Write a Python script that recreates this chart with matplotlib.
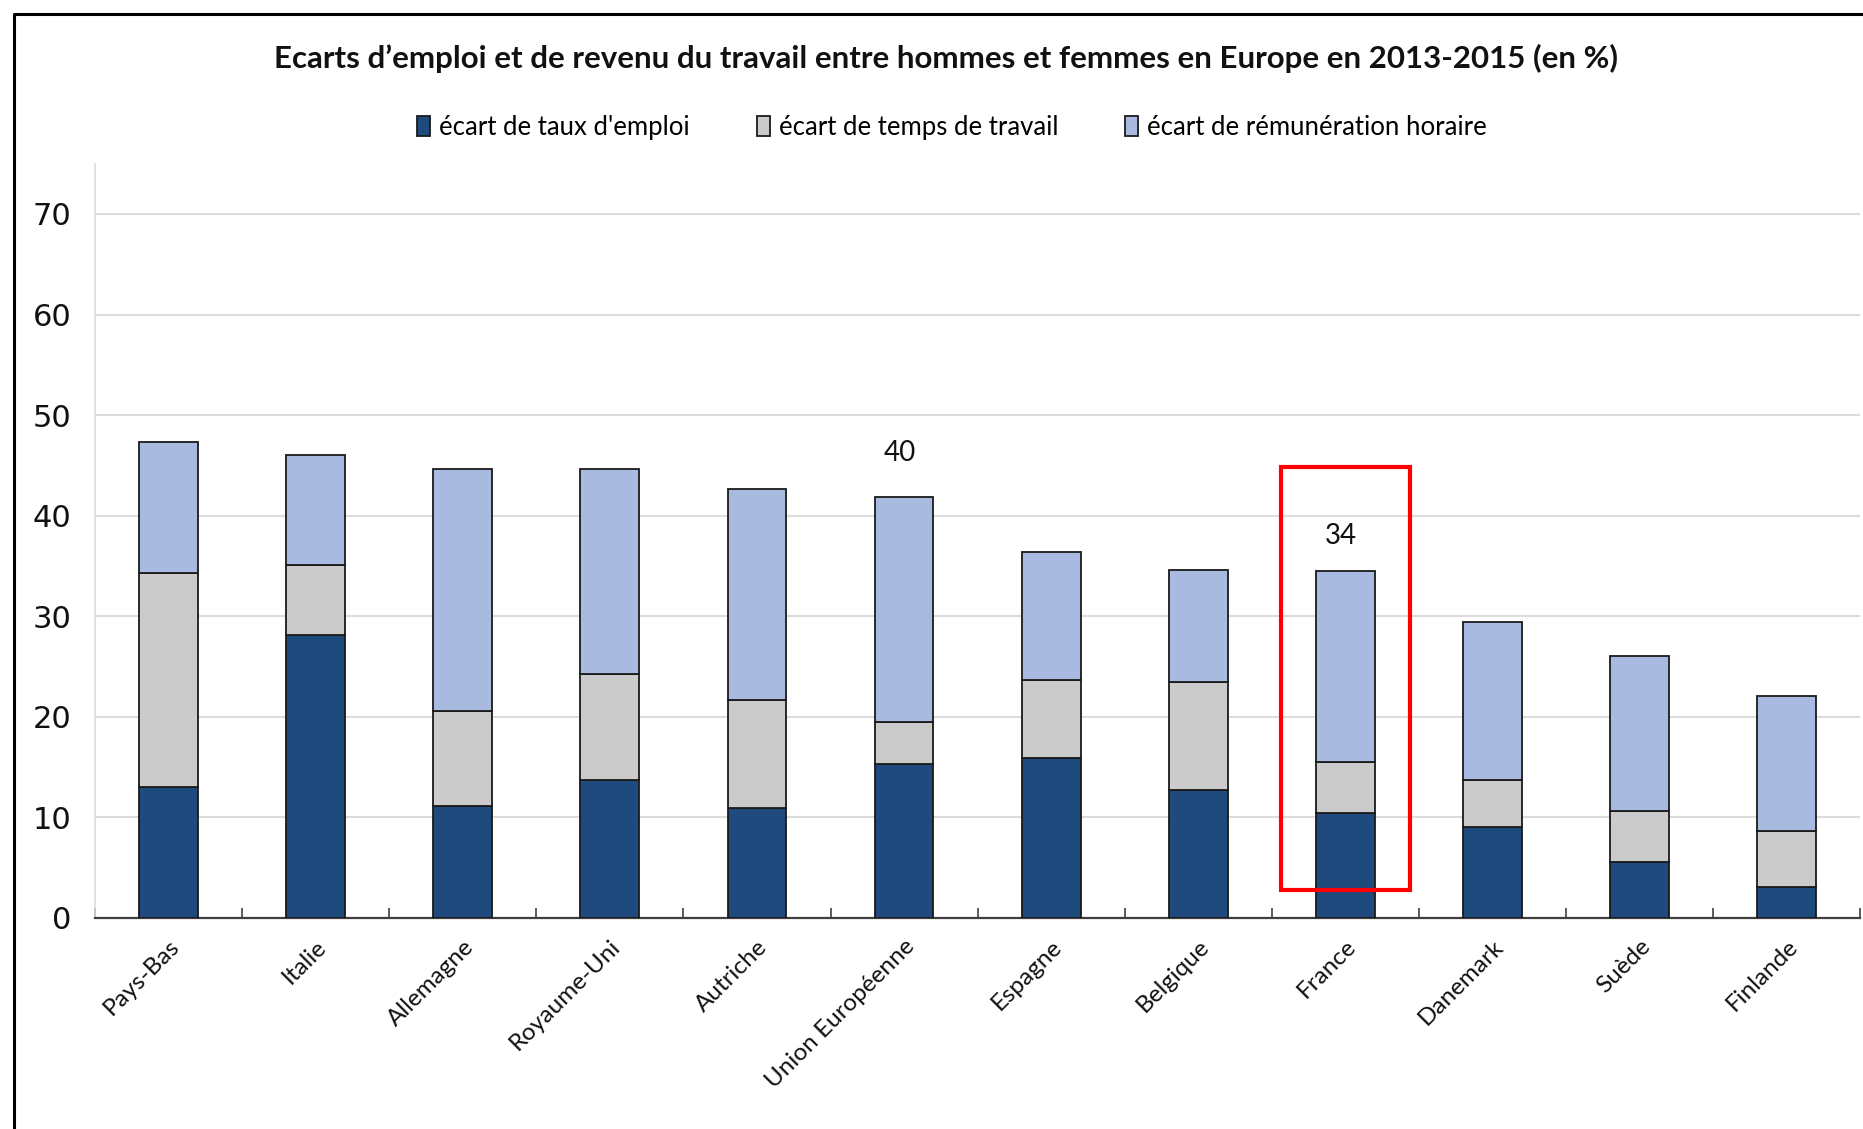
import matplotlib

matplotlib.use("Agg")
import matplotlib.pyplot as plt
import numpy as np
from matplotlib.lines import Line2D
from matplotlib.patches import Rectangle

# data (in %)
countries = [
    "Pays-Bas", "Italie", "Allemagne", "Royaume-Uni", "Autriche",
    "Union Européenne", "Espagne", "Belgique", "France", "Danemark",
    "Suède", "Finlande",
]
ecart_emploi = [13.0, 28.1, 11.1, 13.7, 10.9, 15.3, 15.9, 12.7, 10.4, 9.0, 5.6, 3.1]
ecart_temps = [21.3, 7.0, 9.5, 10.6, 10.8, 4.2, 7.8, 10.8, 5.1, 4.7, 5.0, 5.5]
ecart_remun = [13.0, 10.9, 24.0, 20.3, 21.0, 22.4, 12.7, 11.1, 19.0, 15.7, 15.4, 13.5]
series_labels = [
    "écart de taux d'emploi",
    "écart de temps de travail",
    "écart de rémunération horaire",
]
# text labels placed above two of the bars
annot_countries = ["Union Européenne", "France"]
annot_labels = ["40", "34"]
highlight = "France"

DARK = "#1F4A7E"
GREY = "#CBCBCB"
LIGHT = "#A9BAE1"
EDGE = "#1A1A1A"
SANS = ["Lato", "DejaVu Sans"]

fig = plt.figure(figsize=(18.63, 11.29), dpi=100)
ax = fig.add_axes([0.051, 0.187, 0.9475, 0.668])

x = np.arange(len(countries))
width = 0.40
emploi = np.array(ecart_emploi)
temps = np.array(ecart_temps)
remun = np.array(ecart_remun)

kw = dict(width=width, edgecolor=EDGE, linewidth=1.3, zorder=3)
ax.bar(x, emploi, color=DARK, label=series_labels[0], **kw)
ax.bar(x, temps, bottom=emploi, color=GREY, label=series_labels[1], **kw)
ax.bar(x, remun, bottom=emploi + temps, color=LIGHT, label=series_labels[2], **kw)

totals = emploi + temps + remun
for name, label, dy in zip(annot_countries, annot_labels, (31, 25)):
    i = countries.index(name)
    ax.annotate(
        label, (x[i], totals[i]), xytext=(-3, dy), textcoords="offset points",
        ha="center", va="center", fontsize=20, family=SANS, color="#111111",
    )

# red frame around France
i = countries.index(highlight)
ax.add_patch(
    Rectangle(
        (x[i] - 0.44, 2.8), 0.88, 42.0, fill=False, edgecolor="#FF0000",
        linewidth=3.0, zorder=5, clip_on=False,
    )
)

ax.set_xlim(-0.5, len(countries) - 0.5)
ax.set_ylim(0, 75)
ax.set_yticks(np.arange(0, 71, 10))
ax.yaxis.grid(True, color="#DCDCDC", linewidth=1.5, zorder=0)
ax.set_axisbelow(True)

ax.set_xticks(x)
ax.set_xticklabels(
    countries, rotation=45, ha="right", rotation_mode="anchor",
    fontsize=17.5, family=SANS, color="#111111",
)
ax.set_xticks(np.arange(-0.5, len(countries)), minor=True)
ax.tick_params(axis="x", which="major", length=0, pad=13)
ax.tick_params(axis="x", which="minor", direction="in", length=7, width=1.2, color="#404040")
ax.tick_params(axis="y", length=0, pad=17, labelsize=22, labelcolor="#111111")

for side in ("top", "right"):
    ax.spines[side].set_visible(False)
ax.spines["left"].set_color("#DCDCDC")
ax.spines["left"].set_linewidth(1.2)
ax.spines["bottom"].set_color("#404040")
ax.spines["bottom"].set_linewidth(1.6)

fig.text(
    0.508, 0.948,
    "Ecarts d\u2019emploi et de revenu du travail entre hommes et femmes en Europe en 2013-2015 (en %)",
    ha="center", va="center", fontsize=22.5, fontweight="bold", family=SANS, color="#111111",
)

fig.legend(
    loc="center", bbox_to_anchor=(0.511, 0.887), ncol=3, frameon=False,
    prop={"family": SANS, "size": 18.5}, handlelength=0.5, handleheight=0.85,
    handletextpad=0.35, columnspacing=2.6,
)

# outer frame of the original picture
fig.add_artist(Line2D([0.0075, 0.0075, 1.0], [0.0, 0.9876, 0.9876], color="black",
                      linewidth=2.2, transform=fig.transFigure))

fig.savefig("out.png", dpi=100, facecolor="white")
